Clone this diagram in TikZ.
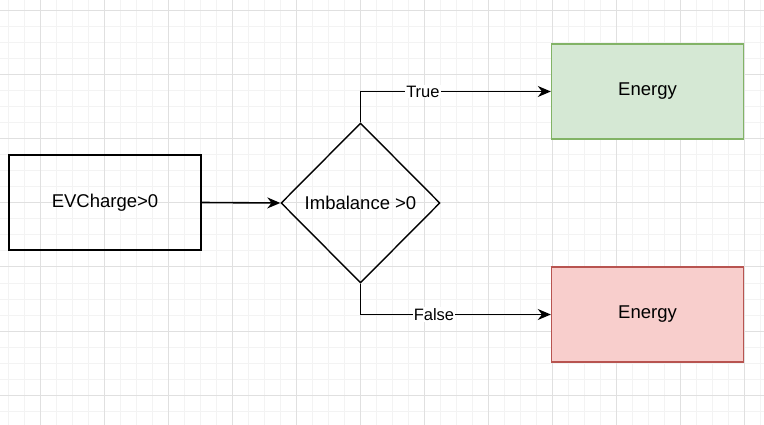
\documentclass[tikz,border=0pt]{standalone}
\usepackage{fontspec}
\setmainfont{Liberation Sans}
\usetikzlibrary{shapes.geometric,arrows.meta}
\definecolor{minorgrid}{HTML}{F3F3F3}
\definecolor{majorgrid}{HTML}{E0E0E0}
\definecolor{greenfill}{HTML}{D5E8D4}
\definecolor{greenline}{HTML}{82B366}
\definecolor{redfill}{HTML}{F8CECC}
\definecolor{redline}{HTML}{B85450}
\tikzset{
  box/.style={draw, line width=1.4pt, minimum width=192pt, minimum height=95pt, inner sep=0pt, font=\fontsize{18.5pt}{22pt}\selectfont},
  decision/.style={draw, line width=1.4pt, diamond, aspect=1, minimum width=159pt, minimum height=160pt, inner sep=0pt, font=\fontsize{18.5pt}{22pt}\selectfont},
  conn/.style={line width=1.6pt, -{Stealth[length=13pt,width=11pt]}},
  lbl/.style={fill=white, inner sep=1pt, font=\fontsize{16.5pt}{19pt}\selectfont}
}
\begin{document}
\begin{tikzpicture}[x=1pt,y=-1pt]
\useasboundingbox (0,0) rectangle (764,425);
\fill[white] (0,0) rectangle (764,425);
% minor grid
\foreach \x in {8,24,...,760} \draw[minorgrid, line width=1pt] (\x,0) -- (\x,425);
\foreach \y in {11,27,...,424} \draw[minorgrid, line width=1pt] (0,\y) -- (764,\y);
% major grid
\foreach \x in {40,104,...,760} \draw[majorgrid, line width=1pt] (\x,0) -- (\x,425);
\foreach \y in {11,75,...,424} \draw[majorgrid, line width=1pt] (0,\y) -- (764,\y);

\node[box] (ev) at (105,202.5) {EVCharge>0};
\node[decision] (imb) at (360.5,203) {Imbalance >0};
\node[box, fill=greenfill, draw=greenline] (eg) at (647.5,91.5) {Energy};
\node[box, fill=redfill, draw=redline] (er) at (647.5,314.5) {Energy};

\draw[conn] (ev.east) -- (imb.west);
\draw[conn] (imb.north) |- (eg.west) node[lbl, pos=0.664] {True};
\draw[conn] (imb.south) |- (er.west) node[lbl, pos=0.693] {False};
\end{tikzpicture}
\end{document}
